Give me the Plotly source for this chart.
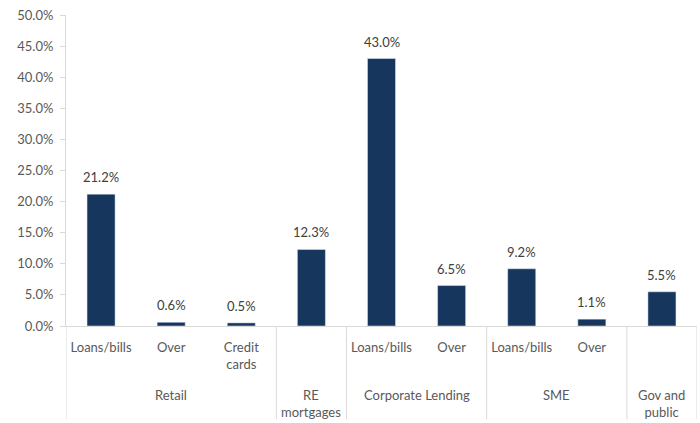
import plotly.graph_objects as go

# Share of exposure by portfolio segment
categories = ["Loans/bills", "Over", "Credit<br>cards", "", "Loans/bills", "Over",
              "Loans/bills", "Over", ""]
values = [0.212, 0.006, 0.005, 0.123, 0.430, 0.065, 0.092, 0.011, 0.055]
groups = ["Retail", "RE<br>mortgages", "Corporate Lending", "SME", "Gov and<br>public"]
group_spans = [(0, 2), (3, 3), (4, 5), (6, 7), (8, 8)]
y_ticks = [0.0, 0.05, 0.10, 0.15, 0.20, 0.25, 0.30, 0.35, 0.40, 0.45, 0.50]

BAR = "#17365d"
TXT = "#595959"
LINE = "#d9d9d9"
FONT = "Lato"

xs = list(range(len(values)))

fig = go.Figure(go.Bar(x=xs, y=values, width=0.4, marker_color=BAR))

# value labels above each bar
for x, v in zip(xs, values):
    fig.add_annotation(x=x, y=v, xref="x", yref="y", text=f"{v*100:.1f}%",
                       showarrow=False, yanchor="bottom", yshift=7,
                       font=dict(family=FONT, size=13, color="#404040"))

# group labels under the category row
for name, (a, b) in zip(groups, group_spans):
    fig.add_annotation(x=(a + b) / 2, y=-0.19, xref="x", yref="paper",
                       text=name, showarrow=False, yanchor="top",
                       font=dict(family=FONT, size=13, color=TXT))

# vertical dividers between groups
bounds = [-0.5] + [b + 0.5 for _, b in group_spans]
for bx in bounds:
    fig.add_shape(type="line", xref="x", yref="paper", x0=bx, x1=bx,
                  y0=0, y1=-0.30, line=dict(color=LINE, width=1))

fig.update_layout(
    width=700, height=423,
    margin=dict(l=66, r=3, t=15, b=97),
    plot_bgcolor="white", paper_bgcolor="white",
    showlegend=False,
    font=dict(family=FONT, size=13, color=TXT),
    xaxis=dict(range=[-0.5, 8.5], tickvals=xs, ticktext=categories,
               showline=True, linecolor=LINE, showgrid=False, zeroline=False,
               ticks="", ticklabelstandoff=9,
               tickfont=dict(family=FONT, size=13, color=TXT)),
    yaxis=dict(range=[0, 0.5], tickvals=y_ticks, tickformat=".1%",
               showline=True, linecolor=LINE, showgrid=False, zeroline=False,
               ticks="outside", ticklen=5, tickcolor=LINE, ticklabelstandoff=4,
               tickfont=dict(family=FONT, size=13, color=TXT)),
)

fig.write_html("out.html")
